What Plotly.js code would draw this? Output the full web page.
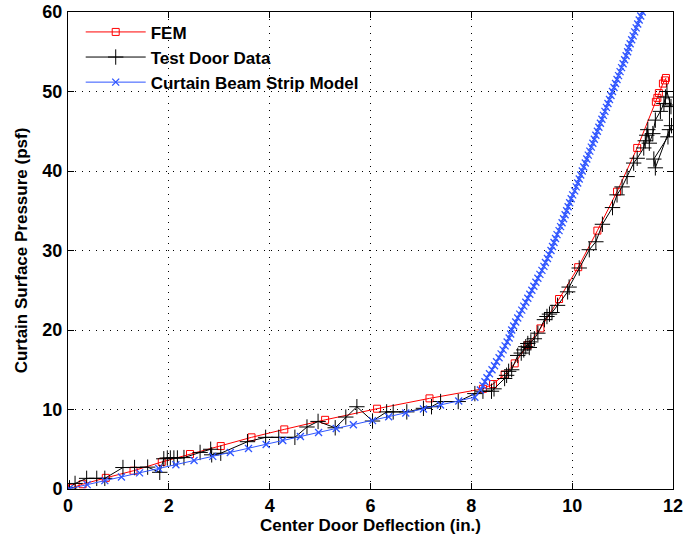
<!DOCTYPE html>
<html>
<head>
<meta charset="utf-8">
<script src="https://cdn.plot.ly/plotly-3.0.1.min.js"></script>
<style>html,body{margin:0;padding:0;background:#fff;}#chart{width:684px;height:542px;}</style>
</head>
<body>
<div id="chart"></div>
<script>
// FEM results
const femX = [0.08,0.29,0.75,1.3,1.86,2.42,3.03,3.64,4.29,5.1,6.13,7.17,8.23,8.43,8.66,8.86,9.12,9.37,9.74,10.12,10.5,10.89,11.29,11.66,11.69,11.72,11.8,11.84,11.86];
const femY = [0.15,0.6,1.4,2.3,3.4,4.4,5.4,6.5,7.5,8.7,10.1,11.4,12.6,13.2,14.4,15.8,18.1,20.2,23.9,27.9,32.5,37.4,42.9,48.7,49.2,49.8,51.0,51.4,51.7];

// Test door data
const testX = [0.03,0.14,0.37,0.57,0.73,1.09,1.32,1.58,1.82,1.9,1.97,2.03,2.1,2.17,2.3,2.62,2.83,2.85,3.03,3.56,3.92,4.18,4.5,4.74,4.96,5.3,5.51,5.73,6.04,6.32,6.45,6.72,7.05,7.21,7.39,7.74,8.07,8.23,8.4,8.45,8.66,8.7,8.74,8.8,8.92,8.99,9.04,9.08,9.12,9.15,9.18,9.25,9.32,9.45,9.5,9.55,9.6,9.71,9.91,9.94,10.14,10.34,10.47,10.6,10.8,10.89,10.99,11.09,11.22,11.29,11.42,11.45,11.48,11.5,11.53,11.6,11.65,11.75,11.82,11.85,11.88,11.96,11.93,11.93,11.65,11.62,11.9,11.97];
const testY = [0.15,0.7,1.34,1.34,1.34,2.7,2.7,2.75,2.1,3.8,3.9,3.9,3.9,3.9,3.95,4.6,5.0,4.3,4.5,5.95,6.5,6.5,6.5,7.8,8.5,7.7,9.05,10.35,8.55,9.7,9.7,9.7,10.15,10.35,11.0,11.0,12.0,12.3,12.3,12.6,13.9,14.3,14.8,15.0,16.8,17.1,17.5,17.9,18.3,17.8,18.5,18.9,19.6,21.3,21.7,22.0,22.2,23.1,24.8,25.4,27.8,30.1,31.1,33.3,35.4,37.0,38.0,39.3,41.0,41.6,42.9,43.8,44.5,45.2,43.5,44.7,46.4,47.5,48.5,49.3,50.0,48.1,48.3,45.2,40.4,41.5,44.3,45.7];

// Curtain beam strip model
const beamX = [0.03,0.38,0.73,1.06,1.42,1.8,2.14,2.5,2.87,3.22,3.58,3.93,4.26,4.61,4.97,5.32,5.66,6.04,6.36,6.7,7.05,7.39,7.75,8.07,8.18,
  8.23,8.27,8.31,8.36,8.41,8.46,8.5,8.55,8.59,8.63,8.67,8.71,8.75,8.78,8.8,
  8.84,8.88,8.92,8.96,9.0,9.04,9.08,9.12,9.16,9.2,9.24,9.28,9.32,9.36,9.4,9.44,9.47,9.51,9.54,9.58,
  9.61,9.64,9.67,9.7,9.74,9.77,9.8,9.83,9.86,9.89,9.92,9.95,9.98,10.01,10.05,10.08,10.11,10.14,10.17,10.2,
  10.23,10.26,10.29,10.32,10.35,10.38,10.41,10.44,10.47,10.5,10.53,10.56,10.59,10.62,10.65,10.68,10.71,10.74,10.77,10.8,
  10.83,10.86,10.89,10.92,10.95,10.98,11.01,11.04,11.07,11.1,11.12,11.15,11.18,11.21,11.24,11.27,11.3,11.33,11.36,11.39];
const beamY = [0.05,0.55,1.05,1.5,2.03,2.57,3.06,3.58,4.1,4.6,5.1,5.6,6.1,6.6,7.1,7.6,8.08,8.6,9.08,9.56,10.06,10.56,11.07,11.55,12.45,
  13,13.5,14,14.5,15,15.5,16,16.5,17,17.5,18,18.5,19,19.5,20,
  20.5,21,21.5,22,22.5,23,23.5,24,24.5,25,25.5,26,26.5,27,27.5,28,28.5,29,29.5,30,
  30.5,31,31.5,32,32.5,33,33.5,34,34.5,35,35.5,36,36.5,37,37.5,38,38.5,39,39.5,40,
  40.5,41,41.5,42,42.5,43,43.5,44,44.5,45,45.5,46,46.5,47,47.5,48,48.5,49,49.5,50,
  50.5,51,51.5,52,52.5,53,53.5,54,54.5,55,55.5,56,56.5,57,57.5,58,58.5,59,59.5,60];

const xTicks = [0,2,4,6,8,10,12];
const yTicks = [0,10,20,30,40,50,60];

const F = 'Arial, "Liberation Sans", Helvetica, sans-serif';

const traces = [
  {x: femX, y: femY, name: 'FEM', mode: 'lines+markers', type: 'scatter', cliponaxis: true,
   line: {color: '#ff0000', width: 1},
   marker: {symbol: 'square-open', size: 7, color: '#ff0000', line: {width: 1}}},
  {x: testX, y: testY, name: 'Test Door Data', mode: 'lines+markers', type: 'scatter', cliponaxis: true,
   line: {color: '#000000', width: 1},
   marker: {symbol: 'cross-thin-open', size: 11, color: '#000000', line: {width: 1, color: '#000000'}}},
  {x: beamX, y: beamY, name: 'Curtain Beam Strip Model', mode: 'lines+markers', type: 'scatter', cliponaxis: true,
   line: {color: '#2f55ff', width: 1},
   marker: {symbol: 'x-thin-open', size: 7, color: '#2f55ff', line: {width: 1.3, color: '#2f55ff'}}}
];

const axCommon = {
  showline: true, mirror: 'ticks', linecolor: '#000', linewidth: 1,
  ticks: 'inside', ticklen: 6, tickcolor: '#000',
  showgrid: true, gridcolor: '#000', gridwidth: 1, griddash: '1px,6px',
  zeroline: false, ticklabeloverflow: 'allow',
  tickfont: {family: F, size: 18, color: '#000', weight: 'bold'}
};

const layout = {
  width: 684, height: 542,
  margin: {l: 68, r: 11, t: 12, b: 53},
  paper_bgcolor: '#fff', plot_bgcolor: '#fff',
  showlegend: true,
  legend: {x: 0.021, y: 0.995, xanchor: 'left', yanchor: 'top', bgcolor: 'rgba(255,255,255,0)',
    font: {family: F, size: 17, color: '#000', weight: 'bold'}, itemwidth: 60},
  xaxis: Object.assign({}, axCommon, {range: [0, 12], tickvals: xTicks, ticktext: xTicks.map(String),
    ticklabelstandoff: 0,
    title: {text: 'Center Door Deflection (in.)', font: {family: F, size: 17, color: '#000', weight: 'bold'}, standoff: 0}}),
  yaxis: Object.assign({}, axCommon, {range: [0, 60], tickvals: yTicks, ticktext: yTicks.map(String),
    ticklabelstandoff: 1,
    title: {text: 'Curtain Surface Pressure (psf)', font: {family: F, size: 17, color: '#000', weight: 'bold'}, standoff: 10}})
};

Plotly.newPlot('chart', traces, layout, {displayModeBar: false, staticPlot: true});
</script>
</body>
</html>
